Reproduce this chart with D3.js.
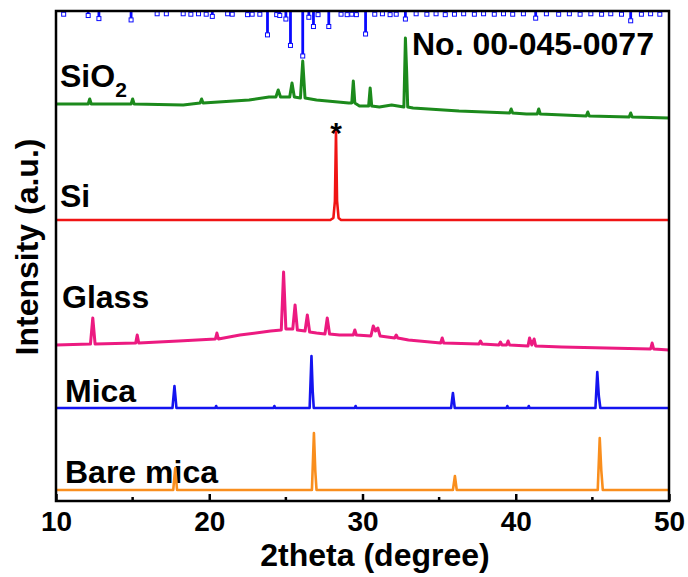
<!DOCTYPE html>
<html>
<head>
<meta charset="utf-8">
<script src="https://cdn.jsdelivr.net/npm/d3@7"></script>
<style>
body { margin: 0; background: #fff; }
text { font-family: "Liberation Sans", Arial, sans-serif; font-weight: bold; fill: #000; }
</style>
</head>
<body>
<script>
let w = 688;
let h = 577;
let margin = { left: 56, right: 19, top: 11, bottom: 76 };

// x axis ticks
let majorTicks = [10, 20, 30, 40, 50];
let minorTicks = [15, 25, 35, 45];

// patterns: [2theta, intensity (a.u., stacked)]
let sio2 = [
  [10, 397], [12.1, 397], [12.2, 402], [12.3, 397], [14.9, 397], [15.0, 402], [15.1, 397],
  [18.3, 396], [19.4, 398], [19.5, 402], [19.6, 398], [22.6, 401], [23.9, 404],
  [24.35, 404], [24.5, 411], [24.65, 404], [25.25, 404], [25.4, 418], [25.55, 404],
  [25.95, 403], [26.1, 440], [26.25, 403], [27.0, 401], [29.1, 398], [29.3, 398],
  [29.4, 420], [29.5, 398], [29.8, 395], [30.4, 395], [30.5, 413], [30.6, 395],
  [31.1, 394], [31.9, 396], [32.7, 394], [32.8, 463], [32.88, 430], [32.95, 394],
  [33.3, 393], [36.3, 390], [39.6, 388], [39.7, 392], [39.8, 388], [40.7, 387],
  [41.4, 387], [41.5, 392], [41.6, 387], [44.6, 385], [44.7, 389], [44.8, 385],
  [47.4, 384], [47.5, 388], [47.6, 384], [50, 383]
];
let si = [
  [10, 281], [27.9, 281], [28.1, 283], [28.2, 300], [28.27, 369], [28.34, 300],
  [28.44, 283], [28.6, 281], [50, 281]
];
let glass = [
  [10, 156], [12.25, 157], [12.4, 183], [12.55, 157], [15.2, 158], [15.3, 166], [15.4, 158],
  [18, 160], [20.4, 162], [20.5, 168], [20.6, 162], [22, 166], [24, 170], [24.7, 171],
  [24.85, 229], [25.0, 172], [25.45, 172], [25.6, 196], [25.75, 171], [26.25, 170],
  [26.4, 186], [26.55, 169], [27.0, 168], [27.55, 167], [27.7, 183], [27.85, 167],
  [28.5, 166], [29.4, 166], [29.5, 171], [29.6, 166], [30.55, 165], [30.7, 175],
  [30.85, 170], [31.0, 173], [31.15, 165], [32.1, 163], [32.2, 166], [32.3, 163],
  [33, 161], [35.1, 158], [35.2, 163], [35.3, 158], [37.6, 157], [37.7, 160], [37.8, 157],
  [38.9, 156], [39.0, 159], [39.1, 156], [39.4, 156], [39.5, 160], [39.6, 156],
  [40.8, 155], [40.9, 163], [41.05, 156], [41.2, 162], [41.3, 155], [43, 154],
  [48.8, 152], [48.9, 158], [49.0, 152], [50, 151]
];
let mica = [
  [10, 93], [17.6, 93], [17.73, 115], [17.86, 93], [20.4, 93], [20.45, 95], [20.5, 93],
  [24.2, 93], [24.25, 95], [24.3, 93], [26.55, 93], [26.67, 145], [26.75, 110], [26.82, 93],
  [29.5, 93], [29.55, 95], [29.6, 93], [35.78, 93], [35.9, 108], [36.02, 93],
  [39.4, 93], [39.45, 95], [39.5, 93], [40.8, 93], [40.85, 95], [40.9, 93],
  [45.2, 93], [45.32, 129], [45.42, 105], [45.52, 93], [50, 93]
];
let bareMica = [
  [10, 11], [17.65, 11], [17.78, 33], [17.9, 11], [26.7, 11], [26.83, 68], [26.92, 30],
  [27.0, 11], [35.9, 11], [36.03, 25], [36.15, 11], [45.35, 11], [45.48, 63], [45.58, 31],
  [45.68, 11], [50, 11]
];

// reference pattern No. 00-045-0077: [2theta, relative intensity]
let refSticks = [
  [10.5, 5], [12.1, 8], [12.8, 15], [14.9, 18], [16.6, 4], [17.2, 4], [18.3, 4], [18.8, 5],
  [19.3, 4], [19.8, 5], [20.2, 10], [21.2, 4], [21.5, 5], [22.5, 6], [22.8, 5], [23.3, 5],
  [23.8, 52], [24.4, 6], [24.6, 8], [25.0, 16], [25.3, 76], [26.1, 100], [26.5, 12],
  [26.8, 33], [27.1, 6], [27.8, 33], [28.6, 5], [29.0, 6], [29.3, 5], [29.6, 6], [30.2, 50],
  [30.8, 5], [31.3, 4], [31.8, 6], [32.2, 5], [32.8, 16], [33.5, 4], [34.2, 5], [34.8, 4],
  [35.4, 6], [36.0, 5], [36.6, 4], [37.3, 5], [37.9, 4], [38.6, 5], [39.2, 4], [39.8, 5],
  [40.5, 4], [41.3, 14], [42.0, 4], [42.8, 5], [43.5, 4], [44.2, 5], [44.9, 4], [45.6, 5],
  [46.2, 4], [46.9, 5], [47.5, 20], [48.2, 5], [48.8, 4], [49.4, 5]
];

let series = [
  { name: 'SiO2', data: sio2, color: '#1c8a1c', width: 3 },
  { name: 'Si', data: si, color: '#f01414', width: 2.6 },
  { name: 'Glass', data: glass, color: '#ec1a80', width: 3 },
  { name: 'Mica', data: mica, color: '#1414f0', width: 2.6 },
  { name: 'Bare mica', data: bareMica, color: '#f98e1d', width: 2.6 }
];

let xScale = d3.scaleLinear()
  .domain([10, 50])
  .range([margin.left, w - margin.right]);

let yScale = d3.scaleLinear()
  .domain([0, 490])
  .range([h - margin.bottom, margin.top]);

let stickScale = d3.scaleLinear()
  .domain([0, 100])
  .range([margin.top, margin.top + 44]);

let svg = d3.select('body')
  .append('svg')
  .attr('width', w)
  .attr('height', h);

// labels of each pattern
let labels = [
  { x: 60, y: 87, text: 'SiO', sub: '2' },
  { x: 60, y: 207, text: 'Si' },
  { x: 62, y: 308, text: 'Glass' },
  { x: 65, y: 402, text: 'Mica' },
  { x: 65, y: 483, text: 'Bare mica' }
];

labels.forEach((d) => {
  let t = svg.append('text')
    .attr('x', d.x)
    .attr('y', d.y)
    .attr('font-size', '32px')
    .text(d.text);
  if (d.sub) {
    t.append('tspan')
      .attr('font-size', '21px')
      .attr('dy', 10)
      .text(d.sub);
  }
});

svg.append('text')
  .attr('x', 412)
  .attr('y', 55)
  .attr('font-size', '32px')
  .text('No. 00-045-0077');

svg.append('text')
  .attr('x', xScale(28.27))
  .attr('y', 143)
  .attr('text-anchor', 'middle')
  .attr('font-size', '30px')
  .text('*');

// reference sticks
svg.selectAll('line.stick')
  .data(refSticks)
  .enter()
  .append('line')
  .attr('class', 'stick')
  .attr('x1', (d) => xScale(d[0]))
  .attr('x2', (d) => xScale(d[0]))
  .attr('y1', margin.top)
  .attr('y2', (d) => stickScale(d[1]))
  .attr('stroke', '#0a0aff')
  .attr('stroke-width', 2.8);

svg.selectAll('rect.mark')
  .data(refSticks)
  .enter()
  .append('rect')
  .attr('class', 'mark')
  .attr('x', (d) => xScale(d[0]) - 2)
  .attr('y', (d) => stickScale(d[1]) - 1)
  .attr('width', 4)
  .attr('height', 4)
  .attr('fill', '#fff')
  .attr('stroke', '#0a0aff')
  .attr('stroke-width', 1);

let line = d3.line()
  .x((d) => xScale(d[0]))
  .y((d) => yScale(d[1]));

svg.selectAll('path.trace')
  .data(series)
  .enter()
  .append('path')
  .attr('class', 'trace')
  .attr('d', (d) => line(d.data))
  .attr('fill', 'none')
  .attr('stroke', (d) => d.color)
  .attr('stroke-width', (d) => d.width)
  .attr('stroke-linejoin', 'round');

// frame
svg.append('rect')
  .attr('x', margin.left)
  .attr('y', margin.top)
  .attr('width', w - margin.left - margin.right)
  .attr('height', h - margin.top - margin.bottom)
  .attr('fill', 'none')
  .attr('stroke', '#000')
  .attr('stroke-width', 2.5);

let xAxis = d3.axisBottom(xScale)
  .tickValues(majorTicks)
  .tickSize(-7)
  .tickFormat(d3.format('d'));

let gx = svg.append('g')
  .attr('transform', 'translate(0, ' + (h - margin.bottom) + ')')
  .call(xAxis);
gx.select('.domain').remove();
gx.selectAll('.tick line').attr('stroke-width', 2.5);
gx.selectAll('.tick text')
  .attr('font-size', '28px')
  .attr('font-family', '"Liberation Sans Narrow", "Liberation Sans", Arial, sans-serif')
  .attr('y', 30)
  .attr('dy', 0);

svg.selectAll('line.minor')
  .data(minorTicks)
  .enter()
  .append('line')
  .attr('class', 'minor')
  .attr('x1', (d) => xScale(d))
  .attr('x2', (d) => xScale(d))
  .attr('y1', h - margin.bottom)
  .attr('y2', h - margin.bottom - 4)
  .attr('stroke', '#000')
  .attr('stroke-width', 2.5);

svg.append('text')
  .attr('x', 375)
  .attr('y', 566)
  .attr('text-anchor', 'middle')
  .attr('font-size', '32px')
  .text('2theta (degree)');

svg.append('text')
  .attr('transform', 'translate(38, 247) rotate(-90)')
  .attr('text-anchor', 'middle')
  .attr('font-size', '32px')
  .text('Intensity (a.u.)');
</script>
</body>
</html>
